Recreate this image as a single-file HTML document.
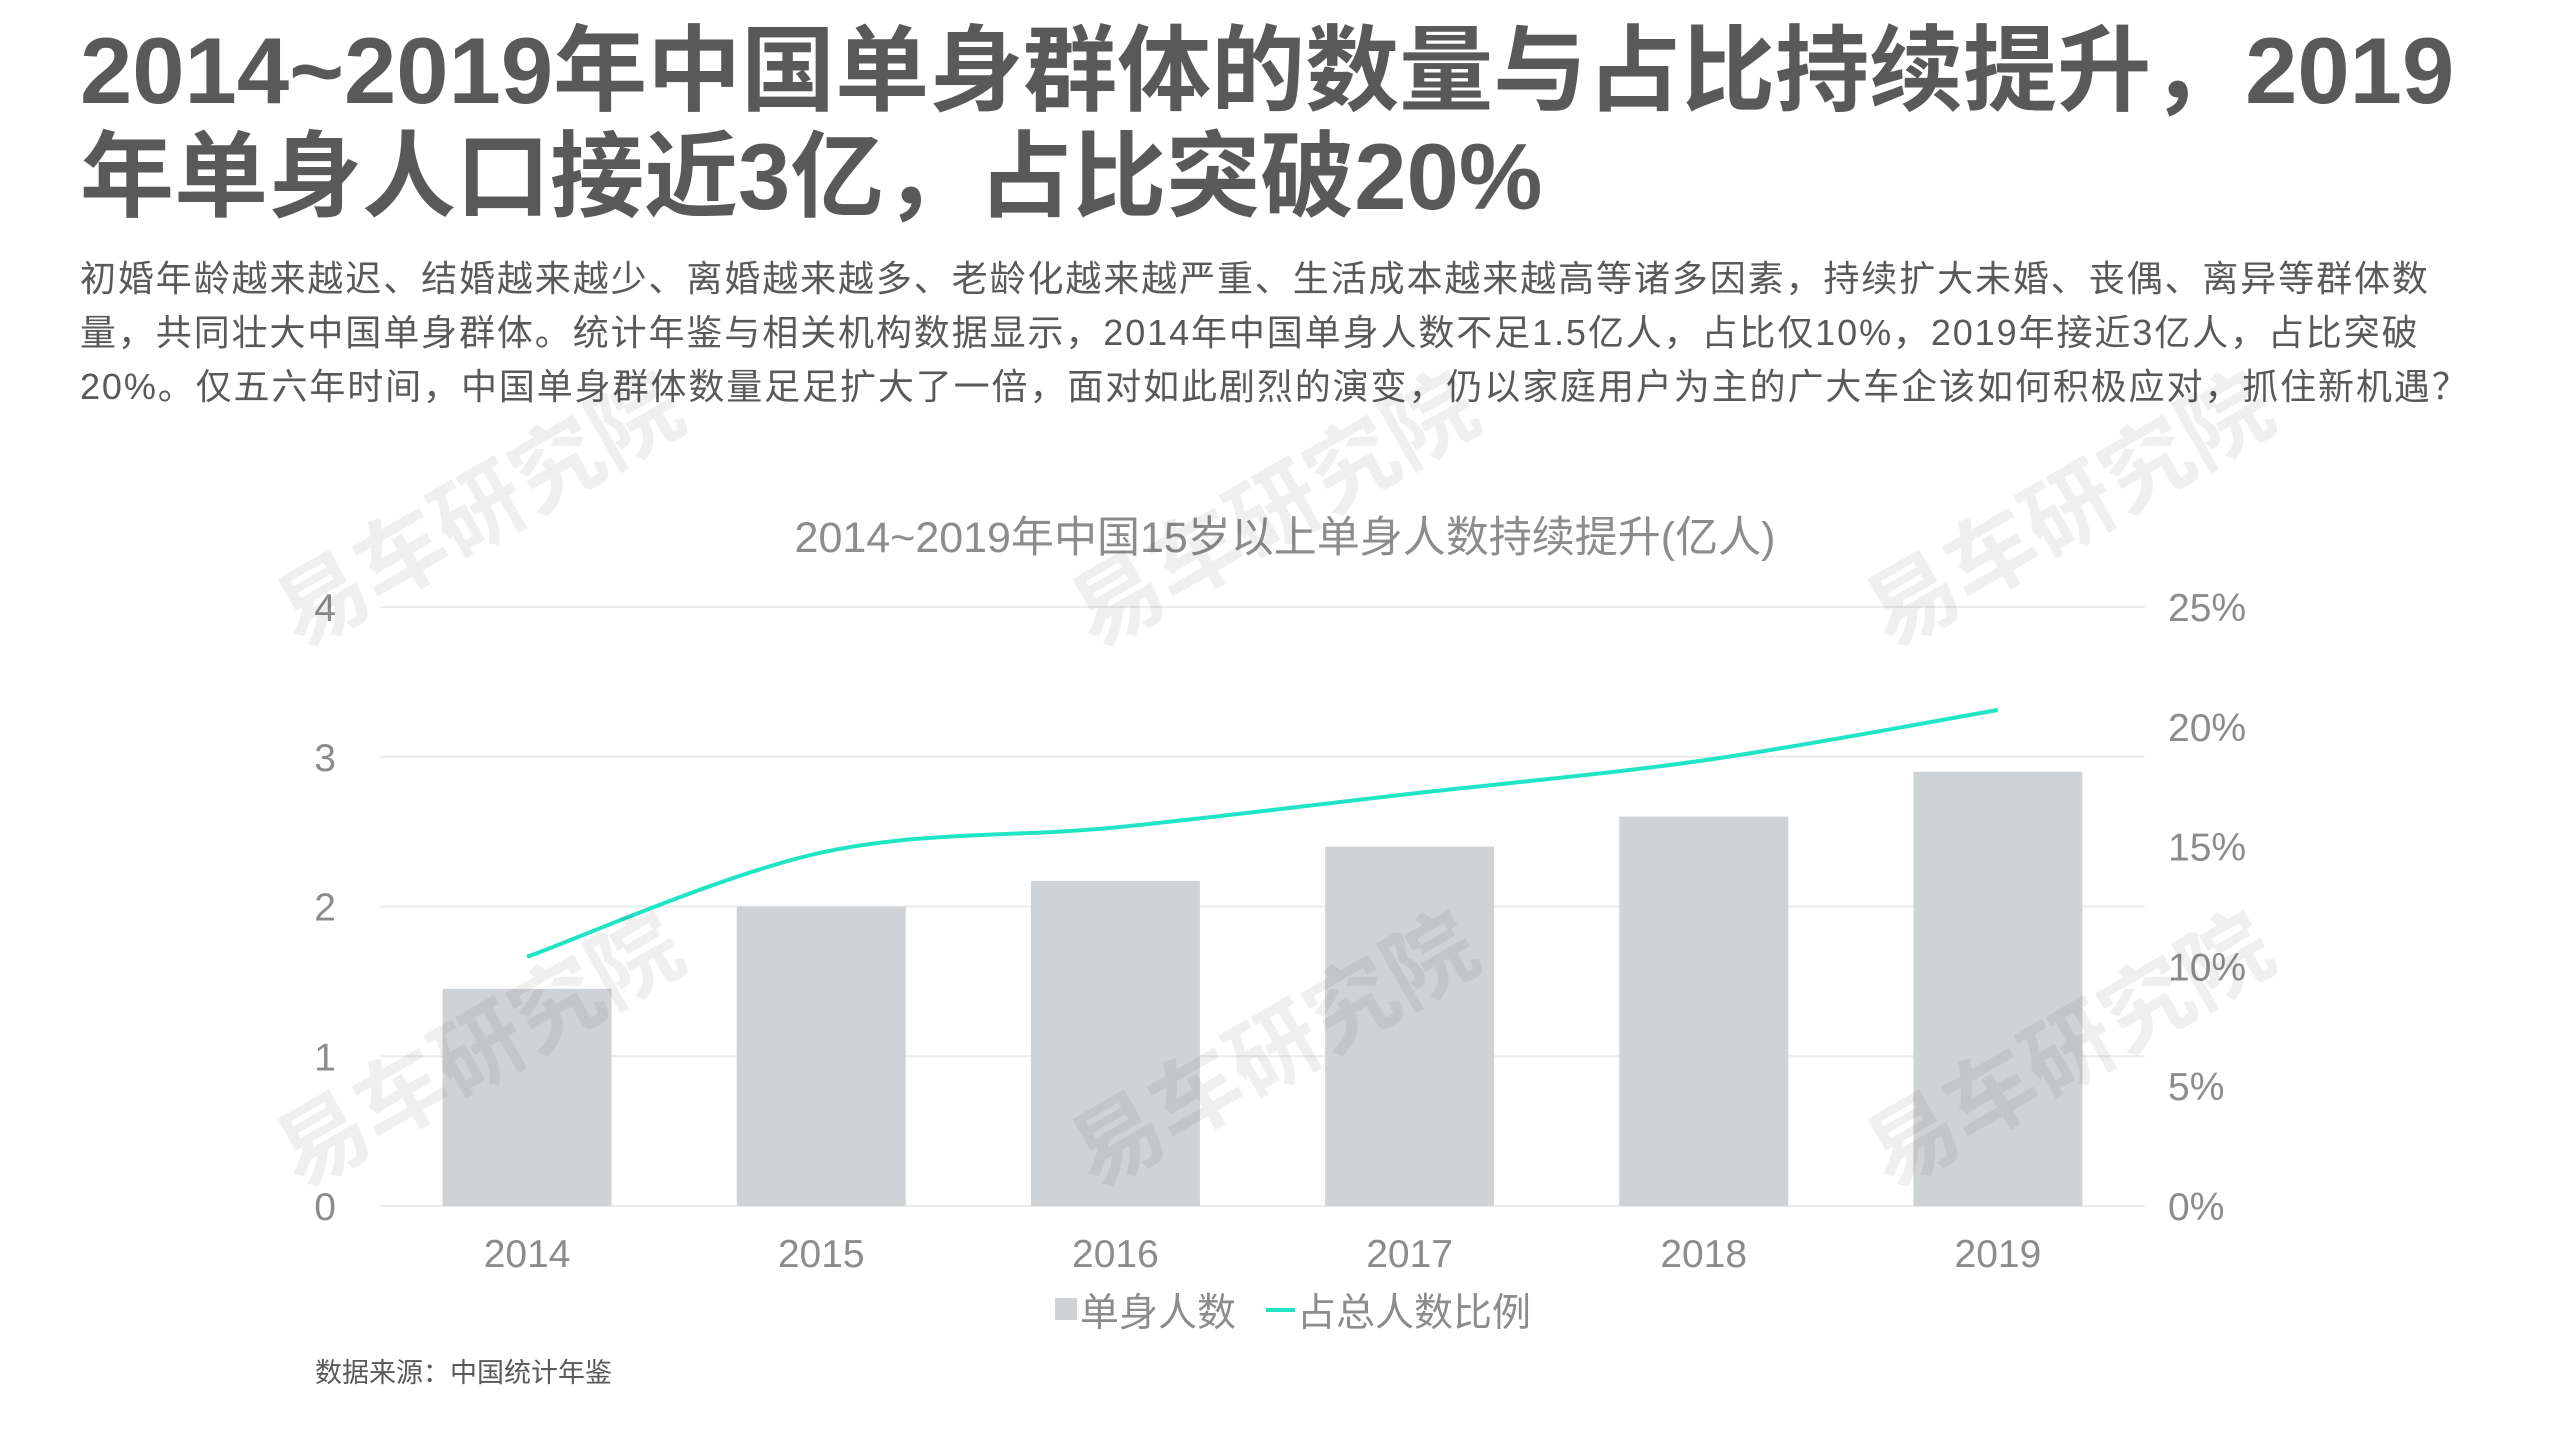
<!DOCTYPE html>
<html><head><meta charset="utf-8">
<style>
html,body{margin:0;padding:0;background:#fff;width:2559px;height:1439px;overflow:hidden;font-family:"Liberation Sans","Noto Sans CJK SC",sans-serif;}
#title{position:absolute;left:80px;top:18px;width:2500px;font-size:94px;font-weight:bold;color:#595959;line-height:106px;margin:0;white-space:nowrap;}
#body{position:absolute;left:80px;top:252px;width:2500px;font-size:36px;color:#595959;line-height:54px;margin:0;white-space:nowrap;letter-spacing:1.9px;}
svg{position:absolute;left:0;top:0;}
</style></head><body>
<h1 id="title">2014~2019年中国单身群体的数量与占比持续提升，2019<br>年单身人口接近3亿，占比突破20%</h1>
<p id="body">初婚年龄越来越迟、结婚越来越少、离婚越来越多、老龄化越来越严重、生活成本越来越高等诸多因素，持续扩大未婚、丧偶、离异等群体数<br>量，共同壮大中国单身群体。统计年鉴与相关机构数据显示，2014年中国单身人数不足1.5亿人，占比仅10%，2019年接近3亿人，占比突破<br>20%。仅五六年时间，中国单身群体数量足足扩大了一倍，面对如此剧烈的演变，仍以家庭用户为主的广大车企该如何积极应对，抓住新机遇？</p>
<svg id="chart" width="2559" height="1439"></svg>
<script>
const categories=["2014","2015","2016","2017","2018","2019"];
const singles=[1.45,2.0,2.17,2.4,2.6,2.9];
const ratio=[10.4,14.75,15.8,17.2,18.6,20.7];
const leftTicks=[0,1,2,3,4];
const rightTicks=[0,5,10,15,20,25];
const NS="http://www.w3.org/2000/svg";
const svg=document.getElementById('chart');
const L=380,R=2145,T=607,B=1206;
const band=(R-L)/categories.length;
const x=i=>L+band*(i+0.5);
const yL=v=>B-(v/4)*(B-T);
const yR=v=>B-(v/25)*(B-T);
function mk(tag,attrs,txt){const e=document.createElementNS(NS,tag);for(const k in attrs)e.setAttribute(k,attrs[k]);if(txt!==undefined)e.textContent=txt;svg.appendChild(e);return e;}
const F='"Liberation Sans","Noto Sans CJK SC",sans-serif';
let t=mk('text',{x:1285,y:552,'text-anchor':'middle','font-size':43,fill:'#8c8c8c','font-family':F},'2014~2019年中国15岁以上单身人数持续提升(亿人)');


leftTicks.forEach(v=>{
  const g=mk('line',{x1:L,x2:R,y1:yL(v),y2:yL(v),stroke:'#ececec','stroke-width':2});
  
  
  const tx=mk('text',{x:336,y:yL(v)+14,'text-anchor':'end','font-size':39,fill:'#8c8c8c','font-family':F},String(v));
  
  
});
rightTicks.forEach(v=>{
  const tx=mk('text',{x:2168,y:yR(v)+14,'font-size':39,fill:'#8c8c8c','font-family':F},v+'%');
  
  
});
const bw=169;
singles.forEach((v,i)=>{
  const b=mk('rect',{x:x(i)-bw/2,y:yL(v),width:bw,height:B-yL(v),fill:'#d0d3d6'});
  
  
  const tx=mk('text',{x:x(i),y:1267,'text-anchor':'middle','font-size':39,fill:'#8c8c8c','font-family':F},categories[i]);
  
  
});
const pts=ratio.map((v,i)=>[x(i),yR(v)]);
let d='M'+pts[0][0]+','+pts[0][1];
for(let i=0;i<pts.length-1;i++){
  const p0=pts[Math.max(0,i-1)],p1=pts[i],p2=pts[i+1],p3=pts[Math.min(pts.length-1,i+2)];
  const c1=[p1[0]+(p2[0]-p0[0])/6,p1[1]+(p2[1]-p0[1])/6];
  const c2=[p2[0]-(p3[0]-p1[0])/6,p2[1]-(p3[1]-p1[1])/6];
  d+=' C'+c1+' '+c2+' '+p2;
}
const ln=mk('path',{d:d,fill:'none',stroke:'#1fe5c4','stroke-width':4});


const lg1=mk('rect',{x:1055,y:1298,width:22,height:22,fill:'#d0d3d6'});


const lt1=mk('text',{x:1080,y:1326,'font-size':39,fill:'#8c8c8c','font-family':F},'单身人数');


const lg2=mk('line',{x1:1266,x2:1295,y1:1310,y2:1310,stroke:'#1fe5c4','stroke-width':4});


const lt2=mk('text',{x:1297,y:1326,'font-size':39,fill:'#8c8c8c','font-family':F},'占总人数比例');


const src=mk('text',{x:315,y:1382,'font-size':27,fill:'#595959','font-family':F},'数据来源：中国统计年鉴');


[[300,650],[1095,650],[1890,650],[300,1190],[1095,1190],[1890,1190]].forEach(p=>{
  const w=mk('text',{x:p[0],y:p[1],'font-size':90,'font-weight':'bold',fill:'#000',opacity:0.06,'font-family':F,transform:'rotate(-30 '+p[0]+' '+p[1]+')'},'易车研究院');
  
  
});
</script>
</body></html>
